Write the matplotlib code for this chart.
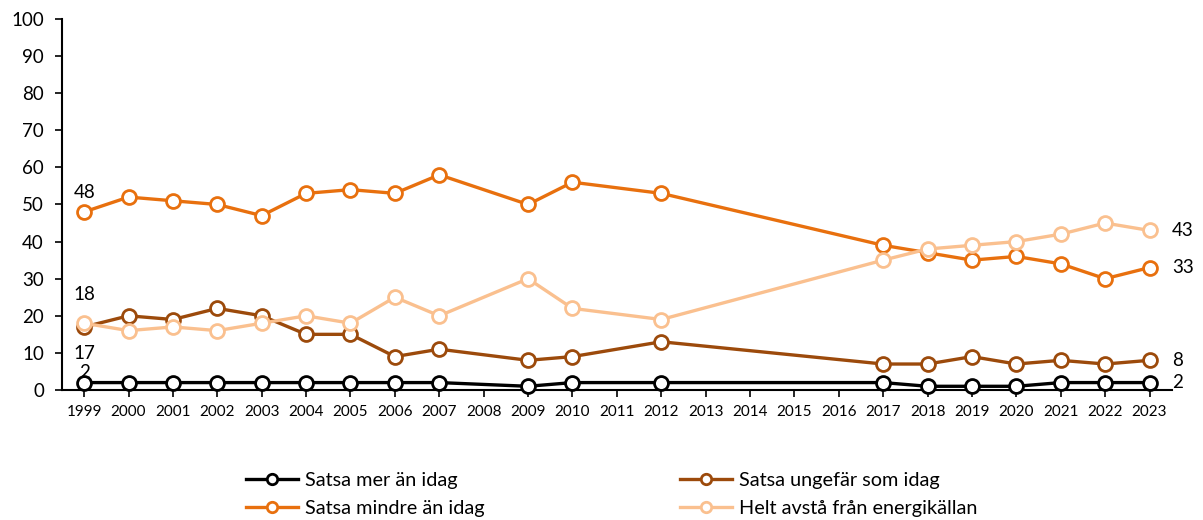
import numpy as np
import matplotlib.pyplot as plt

plt.rcParams["font.family"] = ["Lato", "DejaVu Sans"]

all_years = [str(y) for y in range(1999, 2024)]
years = [1999, 2000, 2001, 2002, 2003, 2004, 2005, 2006, 2007, 2009, 2010,
         2012, 2017, 2018, 2019, 2020, 2021, 2022, 2023]

mer = [2, 2, 2, 2, 2, 2, 2, 2, 2, 1, 2, 2, 2, 1, 1, 1, 2, 2, 2]
ungefar = [17, 20, 19, 22, 20, 15, 15, 9, 11, 8, 9, 13, 7, 7, 9, 7, 8, 7, 8]
mindre = [48, 52, 51, 50, 47, 53, 54, 53, 58, 50, 56, 53, 39, 37, 35, 36, 34, 30, 33]
avsta = [18, 16, 17, 16, 18, 20, 18, 25, 20, 30, 22, 19, 35, 38, 39, 40, 42, 45, 43]

labels = ["Satsa mer än idag", "Satsa ungefär som idag",
          "Satsa mindre än idag", "Helt avstå från energikällan"]
colors = ["#000000", "#9C4A0B", "#E8700E", "#FAC08F"]

x = np.array(years) - 1999

fig = plt.figure(figsize=(12.03, 5.2), dpi=100)
ax = fig.add_axes([0.0515, 0.25, 0.9225, 0.7135])

handles = {}
for name, vals, col in zip(labels, [mer, ungefar, mindre, avsta], colors):
    h, = ax.plot(x, vals, color=col, lw=2.4, marker="o", ms=10,
                 mfc="white", mec=col, mew=2, label=name, zorder=3)
    handles[name] = h

# end labels
fs = 13.5
ax.text(0, mindre[0] + 3, str(mindre[0]), ha="center", va="bottom", fontsize=fs)
ax.text(0, avsta[0] + 5.5, str(avsta[0]), ha="center", va="bottom", fontsize=fs)
ax.text(0, ungefar[0] - 5, str(ungefar[0]), ha="center", va="top", fontsize=fs)
ax.text(0, mer[0] + 0.5, str(mer[0]), ha="center", va="bottom", fontsize=fs)
for vals in [avsta, mindre, ungefar, mer]:
    ax.text(x[-1] + 0.5, vals[-1], str(vals[-1]), ha="left", va="center",
            fontsize=fs)

ax.set_xlim(-0.5, 24.5)
ax.set_ylim(0, 100)
ax.set_xticks(range(len(all_years)))
ax.set_xticklabels(all_years, fontsize=11)
ax.set_yticks(range(0, 101, 10))
ax.tick_params(axis="y", labelsize=13.5, length=5, width=1.2, pad=8)
ax.tick_params(axis="x", length=5, width=1.2, pad=6)
for s in ["top", "right"]:
    ax.spines[s].set_visible(False)
for s in ["left", "bottom"]:
    ax.spines[s].set_linewidth(1.5)
for line in ax.lines:
    line.set_clip_on(False)

order = [labels[0], labels[2], labels[1], labels[3]]
fig.legend([handles[n] for n in order], order, ncol=2, frameon=False,
           loc="upper left", bbox_to_anchor=(0.190, 0.126), fontsize=14.3,
           handlelength=2.6, columnspacing=9.85, labelspacing=0.55,
           handletextpad=0.35, markerscale=0.75)

fig.savefig("out.png", dpi=100)
